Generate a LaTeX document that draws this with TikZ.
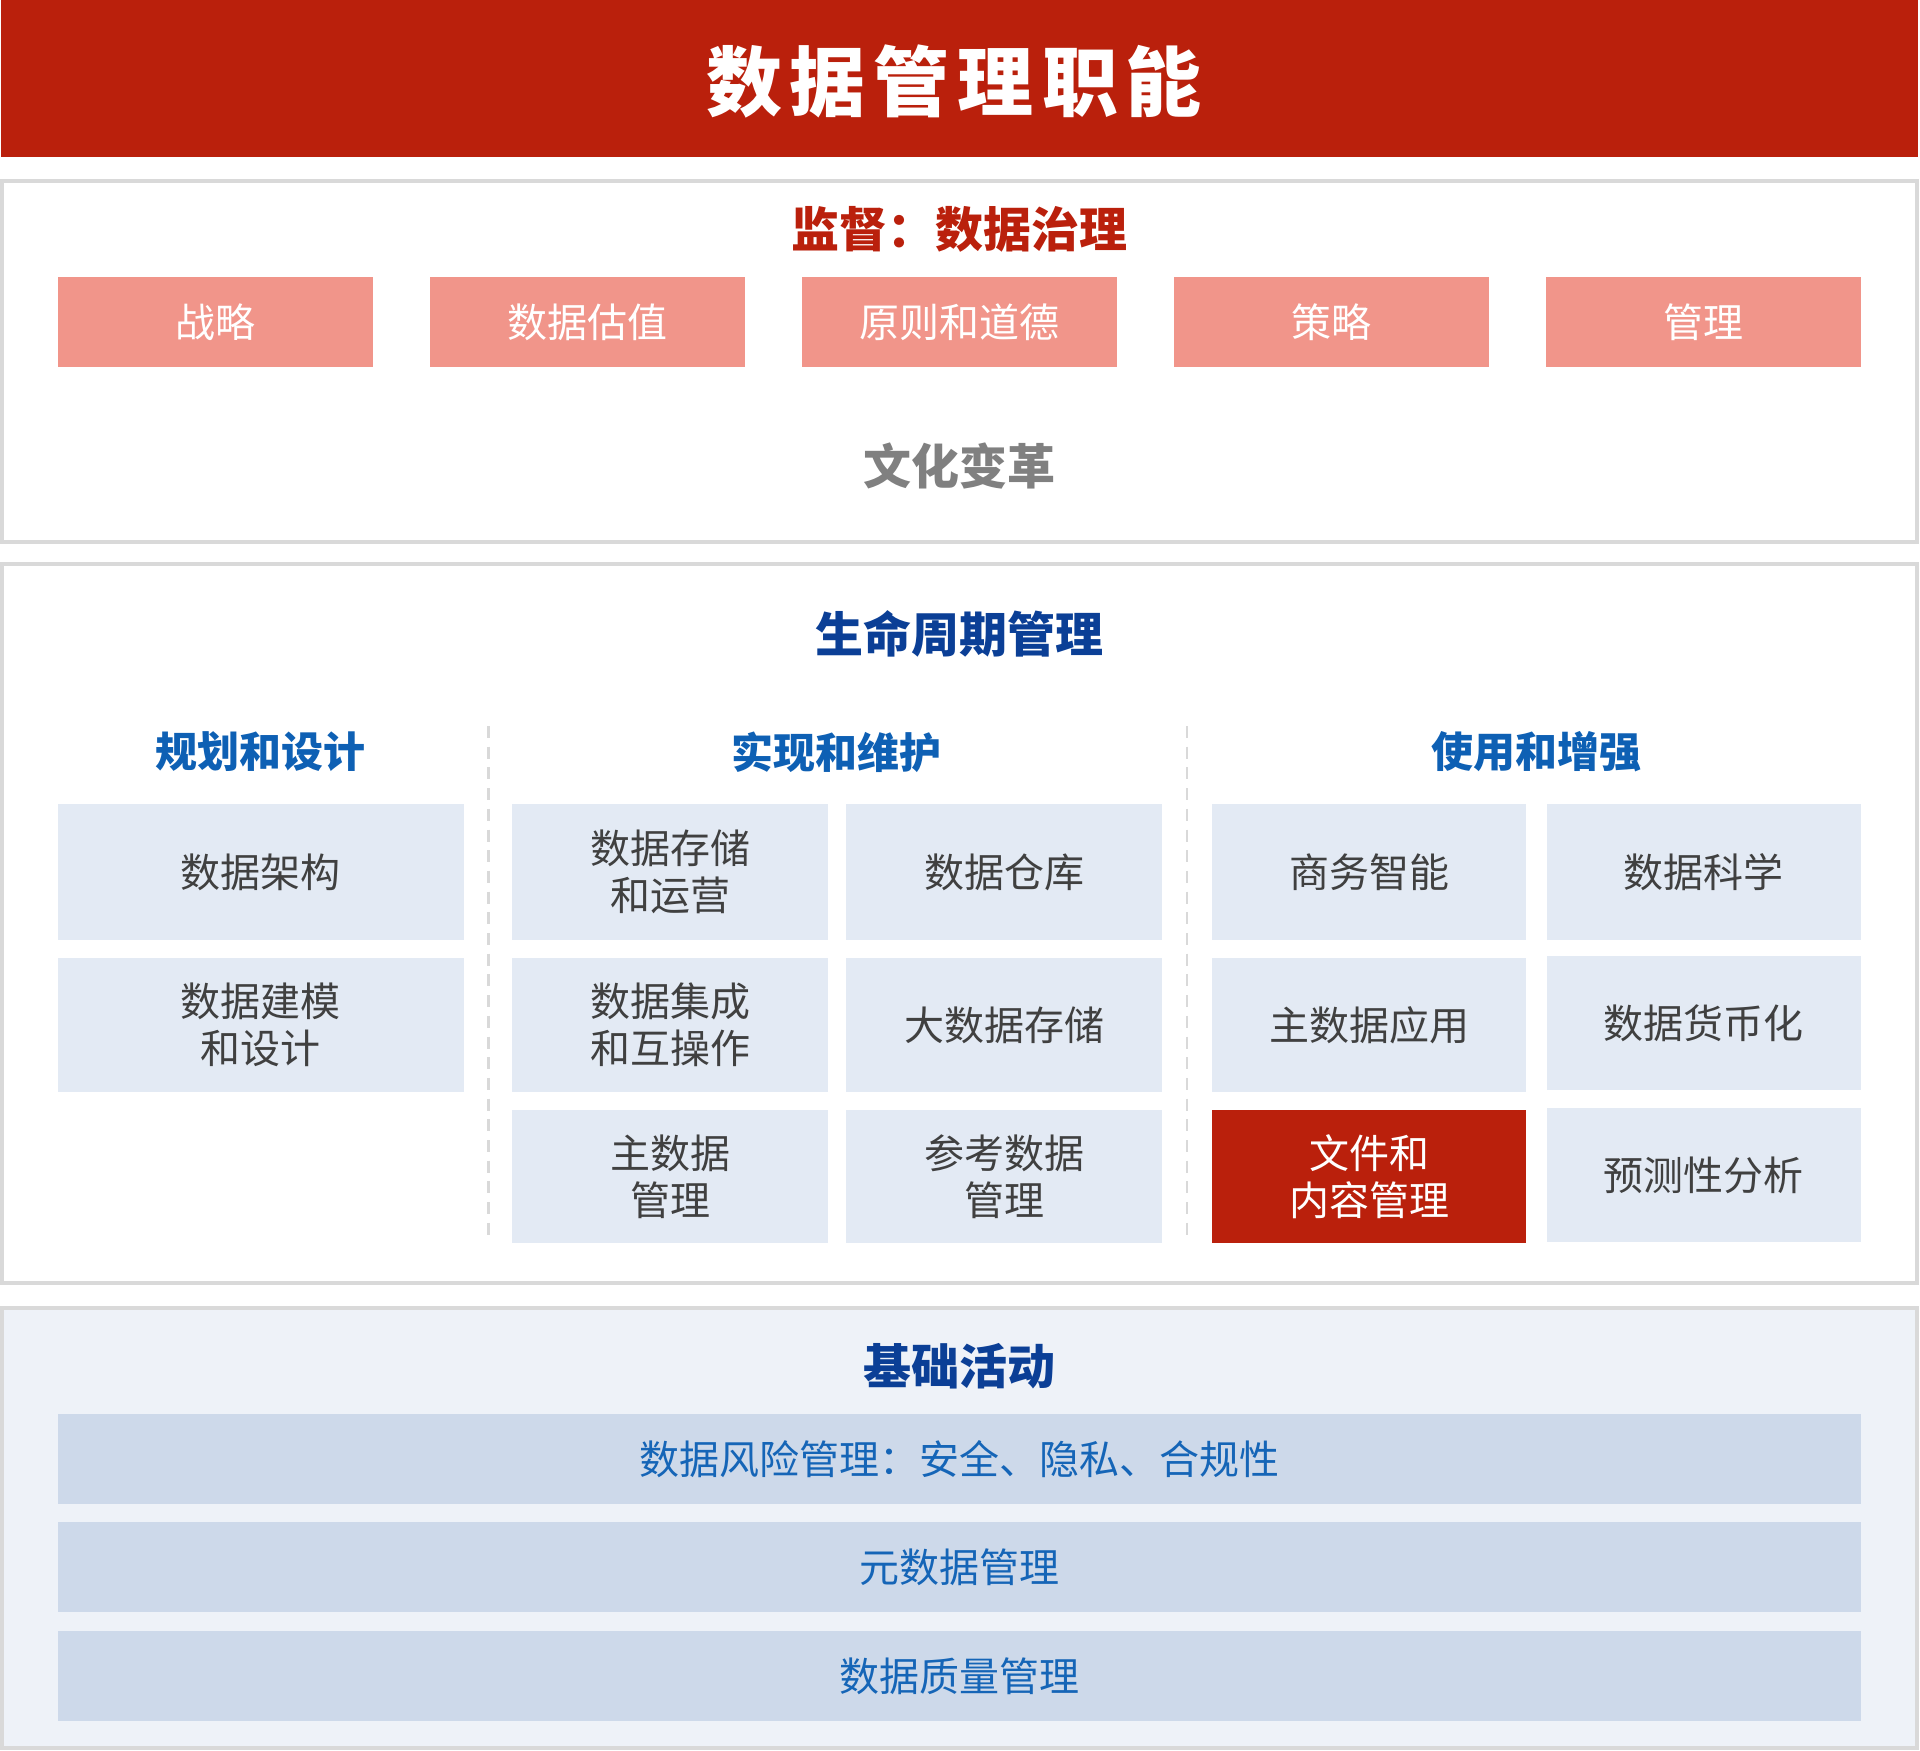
\documentclass[tikz,border=0pt]{standalone}
\usepackage{fontspec}
\setmainfont{Noto Sans CJK SC}
\definecolor{titlered}{RGB}{186,32,12}
\definecolor{pinkfill}{RGB}{241,149,138}
\definecolor{bordergray}{RGB}{217,217,217}
\definecolor{cellfill}{RGB}{227,234,244}
\definecolor{foundfill}{RGB}{238,242,248}
\definecolor{rowfill}{RGB}{205,217,234}
\definecolor{navy}{RGB}{11,63,150}
\definecolor{headblue}{RGB}{14,96,180}
\definecolor{rowtext}{RGB}{21,101,183}
\definecolor{darktext}{RGB}{64,64,64}
\definecolor{graytext}{RGB}{128,128,128}
\newcommand{\fsz}[1]{\fontsize{#1pt}{#1pt}\selectfont}
\tikzset{
  panel/.style={draw=bordergray, line width=4pt},
  bigtitle/.style={text=navy, font=\bfseries\fontsize{48pt}{56pt}\selectfont, inner sep=0pt},
  colhead/.style={text=headblue, font=\bfseries\fontsize{42pt}{50pt}\selectfont, inner sep=0pt},
  pinkbox/.style={fill=pinkfill, text=white, minimum width=315pt, minimum height=90pt, inner sep=0pt, font=\fontsize{40pt}{47pt}\selectfont},
  cell/.style={fill=cellfill, text=darktext, minimum height=134pt, inner sep=0pt, align=center, font=\fontsize{40pt}{47pt}\selectfont},
  redcell/.style={cell, fill=titlered, text=white},
  rowbox/.style={fill=rowfill, text=rowtext, minimum width=1803.5pt, minimum height=90pt, inner sep=0pt, font=\fontsize{40pt}{47pt}\selectfont},
  divider/.style={draw=bordergray, line width=2.7pt, dash pattern=on 12pt off 8.7pt}
}
\begin{document}
\begin{tikzpicture}[x=1pt,y=-1pt]
\useasboundingbox (0,0) rectangle (1920,1751);
% title band
\fill[titlered] (1,0) rectangle (1918,157);
\node[text=white, font=\bfseries\fontsize{76pt}{80pt}\selectfont, inner sep=0pt] (title) at (954,81)
  {数\hspace{8pt}据\hspace{8pt}管\hspace{8pt}理\hspace{8pt}职\hspace{8pt}能};
% governance panel
\draw[panel, fill=white] (2,181) rectangle (1917,542);
\node[text=titlered, font=\bfseries\fontsize{48pt}{56pt}\selectfont, inner sep=0pt] (gov) at (959,229) {监督：数据治理};
\node[pinkbox] (p1) at (215.5,322) {战略};
\node[pinkbox] (p2) at (587.5,322) {数据估值};
\node[pinkbox] (p3) at (959.5,322) {原则和道德};
\node[pinkbox] (p4) at (1331.5,322) {策略};
\node[pinkbox] (p5) at (1703.5,322) {管理};
\node[text=graytext, font=\bfseries\fontsize{48pt}{56pt}\selectfont, inner sep=0pt] (culture) at (959,466) {文化变革};
% lifecycle panel
\draw[panel, fill=white] (2,564) rectangle (1917,1283);
\node[bigtitle] (life) at (959,634) {生命周期管理};
\node[colhead] (h1) at (260,752) {规划和设计};
\node[colhead] (h2) at (836,752) {实现和维护};
\node[colhead] (h3) at (1536,752) {使用和增强};
\coordinate (d1a) at (488.5,726);
\coordinate (d1b) at (488.5,1240);
\coordinate (d2a) at (1187,726);
\coordinate (d2b) at (1187,1240);
\draw[divider] (d1a) -- (d1b);
\draw[divider] (d2a) -- (d2b);
% column A
\node[cell, minimum width=406.5pt, minimum height=136pt] (a1) at (260.75,872) {数据架构};
\node[cell, minimum width=406.5pt] (a2) at (260.75,1025) {数据建模\\和设计};
% column B
\node[cell, minimum width=316pt, minimum height=136pt] (b11) at (670,872) {数据存储\\和运营};
\node[cell, minimum width=316pt, minimum height=136pt] (b21) at (1004,872) {数据仓库};
\node[cell, minimum width=316pt] (b12) at (670,1025) {数据集成\\和互操作};
\node[cell, minimum width=316pt] (b22) at (1004,1025) {大数据存储};
\node[cell, minimum width=316pt, minimum height=133pt] (b13) at (670,1176.5) {主数据\\管理};
\node[cell, minimum width=316pt, minimum height=133pt] (b23) at (1004,1176.5) {参考数据\\管理};
% column C
\node[cell, minimum width=314pt, minimum height=136pt] (c11) at (1369,872) {商务智能};
\node[cell, minimum width=314.5pt, minimum height=136pt] (c21) at (1703.75,872) {数据科学};
\node[cell, minimum width=314pt] (c12) at (1369,1025) {主数据应用};
\node[cell, minimum width=314.5pt] (c22) at (1703.75,1023) {数据货币化};
\node[redcell, minimum width=314pt, minimum height=133pt] (c13) at (1369,1176.5) {文件和\\内容管理};
\node[cell, minimum width=314.5pt] (c23) at (1703.75,1175) {预测性分析};
% foundation panel
\draw[panel, fill=foundfill] (2,1308) rectangle (1917,1748);
\node[bigtitle] (found) at (959,1366) {基础活动};
\node[rowbox] (r1) at (959.25,1459) {数据风险管理：安全、隐私、合规性};
\node[rowbox] (r2) at (959.25,1567) {元数据管理};
\node[rowbox] (r3) at (959.25,1676) {数据质量管理};
\end{tikzpicture}
\end{document}
